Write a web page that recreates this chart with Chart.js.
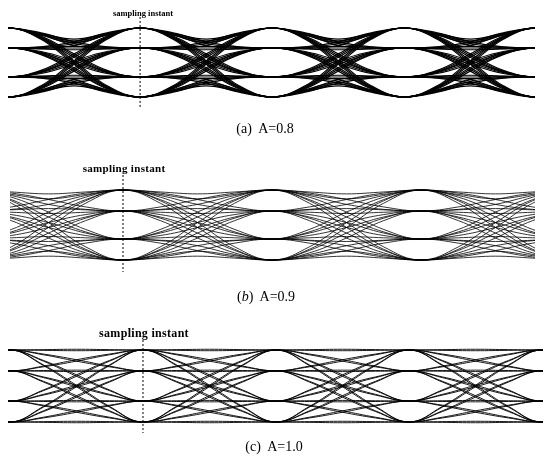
<!DOCTYPE html>
<html><head><meta charset="utf-8">
<script src="https://cdn.jsdelivr.net/npm/chart.js@4/dist/chart.umd.min.js"></script>
<style>
html,body{margin:0;padding:0;background:#fff;}
#wrap{position:relative;width:547px;height:463px;overflow:hidden;background:#fff;}
.box{position:absolute;}
.lbl{position:absolute;font-family:"Liberation Serif","Times New Roman",serif;color:#000;white-space:nowrap;transform:translate(-50%,-50%);line-height:1;}
</style></head><body>
<div id="wrap">
  <div class="box" style="left:8px;top:0px;width:527px;height:120px"><canvas id="cA" width="527" height="120"></canvas></div>
  <div class="box" style="left:10px;top:140px;width:525px;height:140px"><canvas id="cB" width="525" height="140"></canvas></div>
  <div class="box" style="left:8px;top:320px;width:535px;height:120px"><canvas id="cC" width="535" height="120"></canvas></div>
  <div class="lbl" style="left:143px;top:13px;font-size:8.5px;font-weight:bold;">sampling instant</div>
  <div class="lbl" style="left:124px;top:168px;font-size:11px;font-weight:bold;letter-spacing:0.3px;">sampling instant</div>
  <div class="lbl" style="left:144px;top:333px;font-size:12px;font-weight:bold;letter-spacing:0.3px;">sampling instant</div>
  <div class="lbl" style="left:265px;top:129px;font-size:14px;">(a)&nbsp; A=0.8</div>
  <div class="lbl" style="left:266px;top:297px;font-size:14px;">(<i>b</i>)&nbsp; A=0.9</div>
  <div class="lbl" style="left:274px;top:447px;font-size:14px;">(c)&nbsp; A=1.0</div>
</div>
<script>
// ---------- Panel (a) A=0.8 ----------
const levelsA = [1.0, 0.42, -0.42, -1.0];          // sample levels (normalised)
const crossA = [                                     // value at half-symbol, from level i to level j
  [0.63, 0.55, 0.20, 0.00],
  [0.55, 0.42, 0.00, -0.20],
  [0.20, 0.00, -0.42, -0.55],
  [0.00, -0.20, -0.55, -0.63]];
const spreadA = [-0.05, 0, 0.05];                   // ISI spread at the crossing
const quarterA = {transition: 0.15, dip: 0.5};      // trace shape at quarter symbol
const symbolsA = [0, 1, 2, 3];                       // symbol intervals drawn
const samplingA = 1;                                 // sampling instant (symbol time)
const rangeA = {xmin: 0, xmax: 3.99, ymin: -1.667, ymax: 1.812, lineTop: 1.32, lineBot: -1.29};

// ---------- Panel (b) A=0.9 ----------
const levelsB = [1.0, 0.40, -0.40, -1.0];
const crossB = [
  [0.82, 0.66, 0.30, 0.00],
  [0.66, 0.40, 0.00, -0.30],
  [0.30, 0.00, -0.40, -0.66],
  [0.00, -0.30, -0.66, -0.82]];
const spreadB = [-0.07, 0.07];
const quarterB = {transition: 0.17, dip: 0.5};
const symbolsB = [0, 1, 2, 3];
const samplingB = 1;
const rangeB = {xmin: 0.2416, xmax: 3.765, ymin: -1.571, ymax: 2.43, lineTop: 1.43, lineBot: -1.343};

// ---------- Panel (c) A=1.0 ----------
const levelsC = [1.0, 0.42, -0.42, -1.0];
const crossC = [
  [1.00, 0.71, 0.29, 0.00],
  [0.71, 0.42, 0.00, -0.29],
  [0.29, 0.00, -0.42, -0.71],
  [0.00, -0.29, -0.71, -1.00]];
const spreadC = [-0.02, 0.02];
const quarterC = {transition: 0.21, dip: 0.5};
const symbolsC = [-1, 0, 1, 2, 3, 4];
const samplingC = 1;
const rangeC = {xmin: -0.015, xmax: 4.008, ymin: -1.5, ymax: 1.833, lineTop: 1.278, lineBot: -1.306};

const HIDDEN = 'rgba(0,0,0,0)';
function buildDatasets(levels, cross, spread, quarter, symbols, sampling, range, width) {
  const sets = [];
  for (let i = 0; i < levels.length; i++) {
    for (let j = 0; j < levels.length; j++) {
      for (const off of spread) {
        const pts = [];
        const a = levels[i], b = levels[j], m = cross[i][j] + off;
        const d = m - (a + b) / 2;
        const q1 = a + (b - a) * quarter.transition + d * quarter.dip;
        const q3 = b + (a - b) * quarter.transition + d * quarter.dip;
        for (const k of symbols) {
          pts.push({x: k - 0.25, y: q1});      // guide point (hidden segment) -> flat at sample
          pts.push({x: k, y: a});
          pts.push({x: k + 0.25, y: q1});
          pts.push({x: k + 0.5, y: m});
          pts.push({x: k + 0.75, y: q3});
          pts.push({x: k + 1, y: b});
          pts.push({x: k + 1.25, y: q3});      // guide point (hidden segment)
          pts.push({x: k + 1.25, y: null});
        }
        sets.push({data: pts, borderColor: '#000', borderWidth: width, tension: 0.4,
                   pointRadius: 0, spanGaps: false, fill: false,
                   segment: {borderColor: ctx => (ctx.p0DataIndex % 8 === 0 || ctx.p1DataIndex % 8 === 6) ? HIDDEN : undefined}});
      }
    }
  }
  sets.push({data: [{x: sampling, y: range.lineTop}, {x: sampling, y: range.lineBot}],
             borderColor: '#000', borderWidth: 1, borderDash: [2, 2], pointRadius: 0, tension: 0});
  return sets;
}

function makeChart(id, sets, range) {
  new Chart(document.getElementById(id), {
    type: 'line',
    data: {datasets: sets},
    options: {
      responsive: false, animation: false, events: [],
      layout: {padding: 0},
      plugins: {legend: {display: false}, tooltip: {enabled: false}},
      scales: {
        x: {type: 'linear', display: false, min: range.xmin, max: range.xmax},
        y: {type: 'linear', display: false, min: range.ymin, max: range.ymax}
      }
    }
  });
}

makeChart('cA', buildDatasets(levelsA, crossA, spreadA, quarterA, symbolsA, samplingA, rangeA, 1.2), rangeA);
makeChart('cB', buildDatasets(levelsB, crossB, spreadB, quarterB, symbolsB, samplingB, rangeB, 0.8), rangeB);
makeChart('cC', buildDatasets(levelsC, crossC, spreadC, quarterC, symbolsC, samplingC, rangeC, 0.9), rangeC);
</script>
</body></html>
